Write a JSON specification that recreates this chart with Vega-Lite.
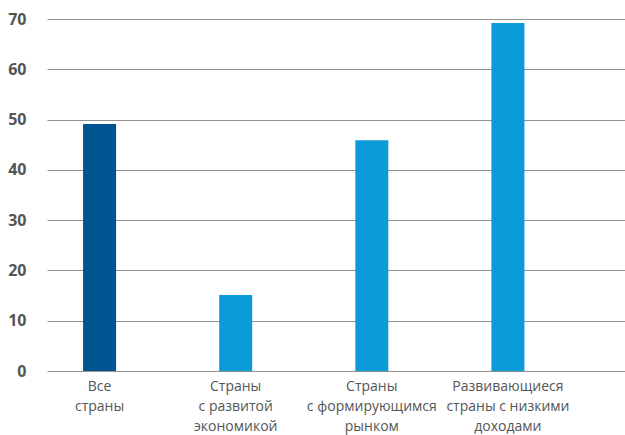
{
  "$schema": "https://vega.github.io/schema/vega-lite/v6.json",
  "autosize": {"type": "none"},
  "padding": {"left": 47, "top": 19, "right": 0, "bottom": 64},
  "width": 578,
  "height": 352,
  "background": "white",
  "config": {"view": {"stroke": null}},
  "data": {
    "values": [
      {"group": "Все|страны", "value": 49.1, "kind": "all"},
      {"group": "Страны|с развитой|экономикой", "value": 15.1, "kind": "sub"},
      {"group": "Страны|с формирующимся|рынком", "value": 45.9, "kind": "sub"},
      {"group": "Развивающиеся|страны с низкими|доходами", "value": 69.2, "kind": "sub"}
    ]
  },
  "mark": {"type": "bar"},
  "encoding": {
    "x": {
      "field": "group",
      "type": "nominal",
      "sort": null,
      "scale": {"paddingInner": 0.7575, "paddingOuter": 0.502, "align": 0.264},
      "axis": {
        "title": null,
        "labelAngle": 0,
        "labelExpr": "split(datum.label, '|')",
        "labelFont": "Open Sans",
        "labelFontSize": 14,
        "labelLineHeight": 20,
        "labelColor": "#555555",
        "labelPadding": 8,
        "ticks": false,
        "domain": false,
        "labelBaseline": "top"
      }
    },
    "y": {
      "field": "value",
      "type": "quantitative",
      "scale": {"domain": [0, 70]},
      "axis": {
        "title": null,
        "values": [0, 10, 20, 30, 40, 50, 60, 70],
        "labelFont": "Open Sans",
        "labelFontWeight": "bold",
        "labelFontSize": 16,
        "labelColor": "#555555",
        "labelPadding": 21,
        "ticks": false,
        "domain": false,
        "grid": true,
        "gridColor": "#929292",
        "gridWidth": 1.2,
        "gridOpacity": 1
      }
    },
    "color": {
      "field": "kind",
      "type": "nominal",
      "scale": {"domain": ["all", "sub"], "range": ["#00548f", "#0a9bd8"]},
      "legend": null
    }
  }
}
